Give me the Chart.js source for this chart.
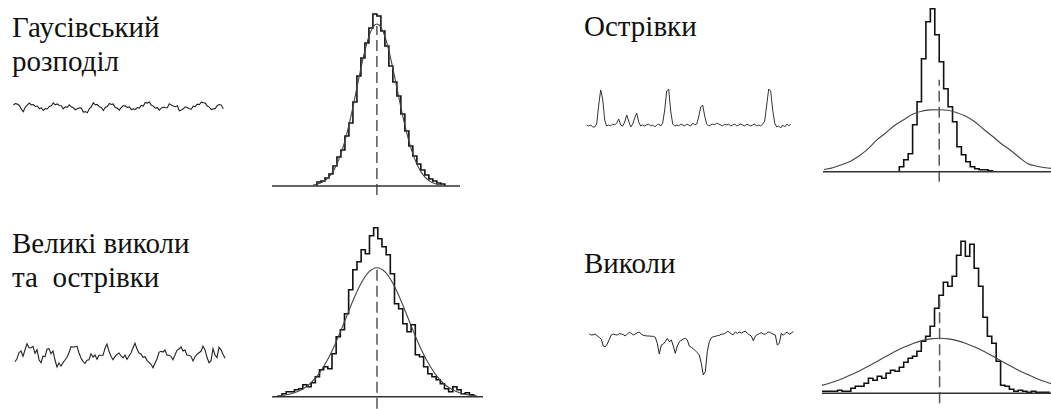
<!DOCTYPE html>
<html>
<head>
<meta charset="utf-8">
<script src="https://cdn.jsdelivr.net/npm/chart.js@4/dist/chart.umd.min.js"></script>
<style>
  html, body { margin: 0; padding: 0; background: #fff; }
  body { width: 1051px; height: 409px; position: relative; overflow: hidden; }
  canvas { position: absolute; }
  div.label {
    position: absolute; white-space: pre; color: #111;
    font-family: 'Liberation Serif', 'Times New Roman', serif;
    font-size: 29px; line-height: 34px;
  }
</style>
</head>
<body>
<div class="label" style="left:12px; top:10px; font-family:'Liberation Serif','Times New Roman',serif !important; font-size:29px !important;">Гаусівський
розподіл</div>
<div class="label" style="left:584px; top:9px; font-family:'Liberation Serif','Times New Roman',serif !important; font-size:29px !important;">Острівки</div>
<div class="label" style="left:12px; top:226px; font-family:'Liberation Serif','Times New Roman',serif !important; font-size:29px !important;">Великі виколи
та  острівки</div>
<div class="label" style="left:584px; top:246px; font-family:'Liberation Serif','Times New Roman',serif !important; font-size:29px !important;">Виколи</div>

<canvas id="sig1" width="214" height="28" style="left:12px; top:94px;"></canvas>
<canvas id="hist1" width="188" height="188" style="left:272px; top:10px;"></canvas>
<canvas id="sig2" width="210" height="55" style="left:585px; top:80px;"></canvas>
<canvas id="hist2" width="228" height="180" style="left:823px; top:5px;"></canvas>
<canvas id="sig3" width="216" height="40" style="left:13px; top:335px;"></canvas>
<canvas id="hist3" width="211" height="187" style="left:272px; top:222px;"></canvas>
<canvas id="sig4" width="210" height="60" style="left:588px; top:322px;"></canvas>
<canvas id="hist4" width="229" height="171" style="left:822px; top:235px;"></canvas>

<script>
// ---- Signal traces (one sample every step) ----
const gaussSignal = [3.3,4.8,4.2,2.8,-0.8,-3.3,1.2,3.2,5.2,3.5,3.8,1.8,2.3,-0.2,0.4,-2.2,-0.2,-0.7,1.8,2.5,5.5,3.5,4.3,2.8,2.5,-0.5,1.5,1.0,3.5,1.5,0.5,-1.5,-0.5,0.5,0.2,-3.8,-3.3,-4.5,-0.5,1.5,5.5,3.5,3.9,1.5,0.8,-2.2,0.8,1.8,4.8,3.8,4.3,0.8,0.2,-1.8,0.8,2.8,2.2,0.8,1.4,-1.2,-0.6,-1.2,0.8,0.2,2.8,2.2,5.8,5.2,6.3,3.2,2.2,0.2,0.7,-1.8,0.2,1.2,0.6,0.5,4.5,3.2,2.2,1.6,2.5,-2.5,-1.8,-0.5,1.5,0.5,-0.5,-0.8,2.2,1.6,4.2,3.6,6.2,5.6,5.2,2.2,1.2,-1.2,-0.6,-0.2,2.8,3.8,3.2,-0.5];
const islandSignal = [0,-1,0,-2,-2,1,20,35,26,5,-1,0,-1,1,0,2,6,0,-1,3,10,4,-2,1,7,12,3,-1,0,-1,0,1,-1,0,-2,0,1,-1,2,15,34,36,14,1,-1,0,-1,1,0,-1,1,0,-1,2,0,1,8,18,20,9,1,-1,0,1,0,2,1,0,-1,1,0,1,-1,0,1,-1,0,1,0,-1,1,0,-1,0,1,-1,0,-1,1,4,20,36,34,15,2,-2,-1,-3,0,-2,1,-1,1];
const mixedSignal = [-6.7,-3.7,2.3,4,-1.3,5,11.3,7.3,7.3,8.7,1.7,5.3,-4.7,-7.7,-1,-1.7,5.7,6.3,1.3,4,-5,-12,-8,-11,-7.7,-5,-2.3,2.3,8.3,7.7,8.3,8.7,2,-3,-6.3,-8.3,-5.3,-4.7,1.3,-2,0,-4.3,-0.3,-0.3,-0.3,6.7,11,3.7,-1.3,-4.7,-1.7,0.7,2,-1,-3,0,-4.3,-1,2,7.3,11.7,6,2,1,-2.3,-1.7,-5.3,-7.3,-9.3,-12.7,-8.3,-4,2.7,3.7,3,5,-0.3,-0.3,-1.3,-4.7,0,4.7,6,8,4,5,-0.3,-0.3,-1.3,-6,-1.7,0.7,2.3,3.7,9,5,-2.3,-7.7,-5.7,6.3,0,-2.7,7.7,5.3,0.7,-3.3];
const dropoutSignal = [1,0,0.3,1,-1,-2.3,-4.3,-11,-11.7,-9,-4.3,0,1,0.3,0,1.3,1,0.3,-1,1,2.7,1.7,0,1,2.3,3,0.7,-0.3,-0.7,-1,-1,-1.3,-1.3,-2.3,-8.3,-19,-10,-9,-6.7,-3.3,-6.7,-5,-11,-18.3,-11,-7,-5,-4,-3.3,-5,-11,-12.3,-13.7,-15.7,-17.7,-20,-28.3,-40,-36.7,-16.7,-6.7,-2.7,-1.7,-1.3,-0.7,-0.3,0.7,1,1.7,3.7,3,1,0.3,3,1.7,3,2,3,4,1.7,0.3,-1,-5.7,-1.3,0.3,1.3,2.3,1,0.7,2.7,3,1.7,0.7,0,-10,-8.3,1.7,-0.3,1.7,3,0.7,2,3.3];

// ---- Histograms: first bin edge and counts per unit-width bin ----
const gaussHistStart = -15;
const gaussHistCounts = [4,5,8,12,20,29,36,50,63,84,110,128,143,158,172,170,155,140,120,104,90,72,55,40,30,22,16,11,7,5,3,2];
const islandHistStart = -9;
const islandHistCounts = [5,12,18,47,70,113,150,163,137,110,83,65,50,25,17,10,5,3,2,2,1];
const mixedHistStart = -22.8;
const mixedHistCounts = [3,5,5,7,8,12,10,14,20,27,30,28,43,60,67,83,107,127,135,147,143,161,169,158,150,142,123,93,88,73,65,72,42,40,30,23,20,17,13,8,5,10,7,3,4,2];
const dropoutHistStart = -27.15;
const dropoutHistCounts = [2,2,2,2,3,2,2,5,7,7,10,15,13,17,15,20,23,22,26,31,35,37,42,52,57,67,85,98,111,107,117,138,152,137,149,125,107,76,57,50,32,8,7,4,2,3,2,1,2,1,1,1];

// ---- Fitted normal curves, sampled on a regular grid ----
const gaussFitStart = -16, gaussFitStep = 1;
const gaussFit = [1.0,1.8,3.2,5.5,9.1,14.4,21.9,32.1,45.0,60.8,78.9,98.3,117.6,135.3,149.5,158.8,162,158.8,149.5,135.3,117.6,98.3,78.9,60.8,45.0,32.1,21.9,14.4,9.1,5.5,3.2,1.8,1.0];
const islandFitStart = -26, islandFitStep = 2;
const islandFit = [2,4,7,10.5,16,23,32,39,46.5,52,57.5,60.5,61.8,62,61.5,59,55.5,50,42.5,35.5,28,21.7,14.5,8,5.5,4,3];
const mixedFitStart = -24, mixedFitStep = 2;
const mixedFit = [0.8,1.7,3.7,7.2,13.2,22.6,35.9,53.0,73.0,93.7,111.9,124.5,129,124.5,111.9,93.7,73.0,53.0,35.9,22.6,13.2,7.2,3.7,1.7,0.8];
const dropoutFitStart = -28, dropoutFitStep = 2;
const dropoutFit = [6.6,8.8,11.6,14.9,18.7,22.9,27.5,32.4,37.3,42.0,46.3,49.9,52.7,54.4,55,54.4,52.7,49.9,46.3,42.0,37.3,32.4,27.5,22.9,18.7,14.9,11.6,8.8,6.6];

// ---- Axis extents and mean-line extents (value units) ----
const gaussAxis = [-26.25, 20.8],  gaussMean = [-9, 160];
const islandAxis = [-26.2, 25.2],  islandMean = [-10, 92];
const mixedAxis = [-25.2, 25.45],  mixedMean = [-12, 130];
const dropoutAxis = [-26.7, 25.3], dropoutMean = [-10, 95];

function seriesPoints(values, start, step) {
  return values.map((v, i) => ({ x: start + i * step, y: v }));
}
function histogramOutline(start, counts) {
  const pts = [{ x: start, y: 0 }];
  counts.forEach((c, i) => { pts.push({ x: start + i, y: c }, { x: start + i + 1, y: c }); });
  pts.push({ x: start + counts.length, y: 0 });
  return pts;
}
function line(points, color, width, extra) {
  return Object.assign({ data: points, borderColor: color, borderWidth: width,
    pointRadius: 0, fill: false, tension: 0, clip: false }, extra || {});
}
function draw(id, datasets, xr, yr) {
  new Chart(document.getElementById(id), {
    type: 'line',
    data: { datasets },
    options: {
      responsive: false, animation: false, events: [],
      layout: { padding: 0 },
      plugins: { legend: { display: false }, tooltip: { enabled: false } },
      scales: {
        x: { type: 'linear', min: xr[0], max: xr[1], display: false },
        y: { type: 'linear', min: yr[0], max: yr[1], display: false }
      }
    }
  });
}

function histogramPanel(id, start, counts, fit, fitStart, fitStep, axis, mean, yr) {
  draw(id, [
    line([{ x: axis[0], y: 0 }, { x: axis[1], y: 0 }], '#333', 1.5),
    line([{ x: 0, y: mean[0] }, { x: 0, y: mean[1] }], '#555', 1.5, { borderDash: [11, 5] }),
    line(seriesPoints(fit, fitStart, fitStep), '#444', 1.1, { cubicInterpolationMode: 'monotone' }),
    line(histogramOutline(start, counts), '#111', 1.6)
  ], axis, yr);
}

// signal traces
draw('sig1', [line(seriesPoints(gaussSignal, 0, 1), '#222', 1.1)], [-0.65, 106.35], [-13.7, 14.3]);
draw('sig2', [line(seriesPoints(islandSignal, 0, 1), '#333', 1)], [-0.85, 104.15], [-10, 45]);
draw('sig3', [line(seriesPoints(mixedSignal, 0, 1), '#222', 1.1)], [-1, 107], [-20, 20]);
draw('sig4', [line(seriesPoints(dropoutSignal, 0, 1), '#222', 1)], [-0.65, 104.35], [-47, 13]);

// histograms with fitted curves
histogramPanel('hist1', gaussHistStart, gaussHistCounts, gaussFit, gaussFitStart, gaussFitStep, gaussAxis, gaussMean, [-12, 176]);
histogramPanel('hist2', islandHistStart, islandHistCounts, islandFit, islandFitStart, islandFitStep, islandAxis, islandMean, [-13.3, 166.7]);
histogramPanel('hist3', mixedHistStart, mixedHistCounts, mixedFit, mixedFitStart, mixedFitStep, mixedAxis, mixedMean, [-12.3, 174.7]);
histogramPanel('hist4', dropoutHistStart, dropoutHistCounts, dropoutFit, dropoutFitStart, dropoutFitStep, dropoutAxis, dropoutMean, [-12.7, 158.3]);
</script>
</body>
</html>
